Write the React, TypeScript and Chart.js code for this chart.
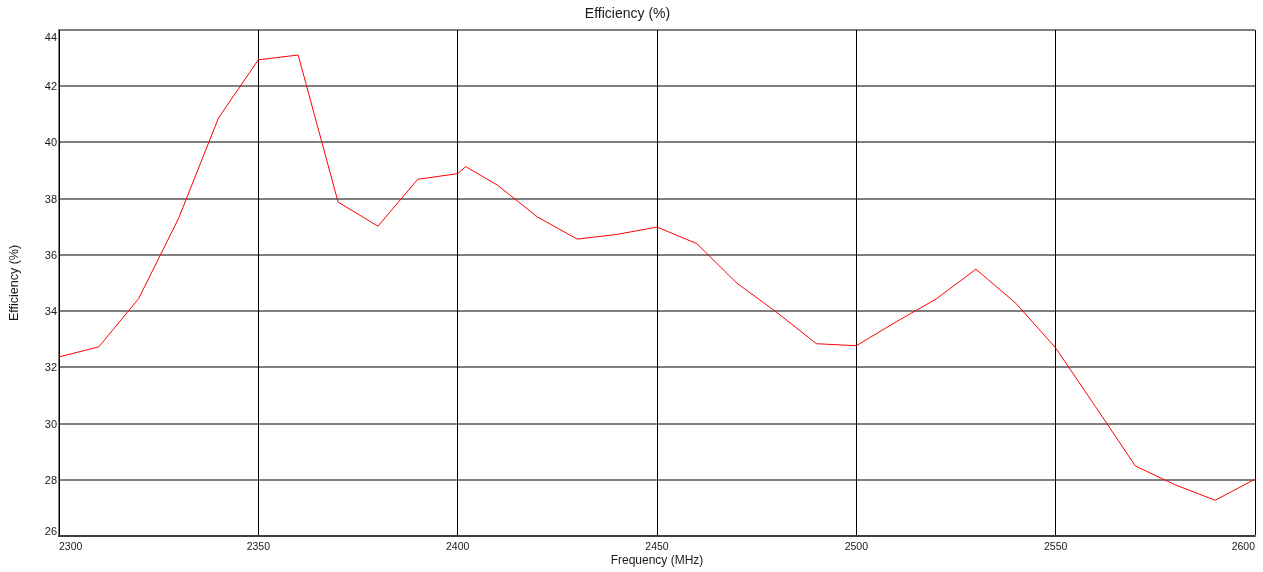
import { useEffect, useRef } from "react";
import { Chart, registerables } from "chart.js";

Chart.register(...registerables);

const frequencies = [
  2300, 2310, 2320, 2330, 2340, 2350, 2360, 2370, 2380, 2390, 2400, 2402,
  2410, 2420, 2430, 2440, 2450, 2460, 2470, 2480, 2490, 2500, 2510, 2520,
  2530, 2540, 2550, 2560, 2570, 2580, 2590, 2600,
];
const efficiency = [
  32.37, 32.73, 34.45, 37.3, 40.87, 42.94, 43.11, 37.88, 37.02, 38.69, 38.89,
  39.14, 38.48, 37.35, 36.56, 36.73, 36.99, 36.4, 35.0, 33.96, 32.84, 32.77,
  33.62, 34.43, 35.49, 34.28, 32.69, 30.6, 28.49, 27.82, 27.27, 28.02,
];
const xTicks = [2300, 2350, 2400, 2450, 2500, 2550, 2600];
const yTicks = [26, 28, 30, 32, 34, 36, 38, 40, 42, 44];

const FONT = "'Liberation Sans', Arial, sans-serif";
const TEXT = "#1a1a1a";

const tickLabelPlugin = {
  id: "tickLabels",
  afterDraw(chart: any) {
    const ctx = chart.ctx;
    const xs = chart.scales.x;
    const ys = chart.scales.y;
    ctx.save();
    ctx.fillStyle = TEXT;
    ctx.textBaseline = "middle";
    ctx.font = `10.5px ${FONT}`;
    xTicks.forEach((v, i) => {
      const px = xs.getPixelForValue(v);
      ctx.textAlign = i === 0 ? "left" : i === xTicks.length - 1 ? "right" : "center";
      ctx.fillText(String(v), px, chart.chartArea.bottom + 11);
    });
    ctx.font = `11px ${FONT}`;
    ctx.textAlign = "right";
    yTicks.forEach((v, i) => {
      let py = ys.getPixelForValue(v) + 1;
      if (i === yTicks.length - 1) py += 7;
      if (i === 0) py -= 5;
      ctx.fillText(String(v), chart.chartArea.left - 2, py);
    });
    ctx.restore();
  },
};

export default function App() {
  const ref = useRef<HTMLCanvasElement | null>(null);
  useEffect(() => {
    document.body.style.margin = "0";
    if (!ref.current) return;
    const chart = new Chart(ref.current, {
      type: "line",
      data: {
        datasets: [
          {
            data: frequencies.map((f, i) => ({ x: f, y: efficiency[i] })),
            borderColor: "#ff0000",
            borderWidth: 1,
            pointRadius: 0,
            tension: 0,
            fill: false,
          },
        ],
      },
      options: {
        animation: false,
        responsive: true,
        maintainAspectRatio: false,
        layout: { padding: { top: 0, right: 8, bottom: 0, left: 0 } },
        plugins: {
          legend: { display: false },
          tooltip: { enabled: false },
          title: {
            display: true,
            text: "Efficiency (%)",
            color: TEXT,
            font: { family: FONT, size: 14, weight: "normal" },
            padding: { top: 6, bottom: 7.2 },
          },
        },
        scales: {
          x: {
            type: "linear",
            min: 2300,
            max: 2600,
            afterFit: (s: any) => {
              s.height = 36;
            },
            ticks: { display: false, stepSize: 50, autoSkip: false },
            grid: { color: "#000", lineWidth: 1, drawTicks: false },
            border: { color: "rgba(0,0,0,0.5)", width: 2 },
            title: {
              display: true,
              text: "Frequency (MHz)",
              color: TEXT,
              font: { family: FONT, size: 12 },
              padding: { top: 0, bottom: 3.8 },
            },
          },
          y: {
            type: "linear",
            min: 26,
            max: 44,
            afterFit: (s: any) => {
              s.width = 59;
            },
            ticks: { display: false, stepSize: 2, autoSkip: false },
            grid: { color: "rgba(0,0,0,0.5)", lineWidth: 2, drawTicks: false },
            border: { color: "rgba(0,0,0,0.5)", width: 2 },
            title: {
              display: true,
              text: "Efficiency (%)",
              color: TEXT,
              font: { family: FONT, size: 12.5 },
              padding: { top: 7, bottom: 0 },
            },
          },
        },
      },
      plugins: [tickLabelPlugin],
    });
    return () => chart.destroy();
  }, []);
  return (
    <div style={{ width: 1263, height: 572, position: "relative" }}>
      <canvas ref={ref} />
    </div>
  );
}
